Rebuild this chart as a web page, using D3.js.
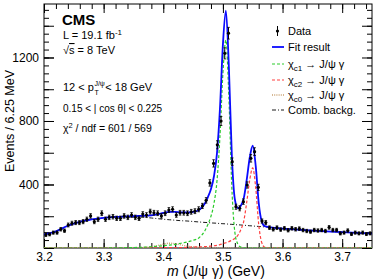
<!DOCTYPE html>
<html>
<head>
<meta charset="utf-8">
<script src="https://cdn.jsdelivr.net/npm/d3@7"></script>
<style>
  body { margin: 0; background: #fff; }
  svg { display: block; font-family: "Liberation Sans", Arial, Helvetica, sans-serif; }
</style>
</head>
<body>
<svg id="chart" width="374" height="280"></svg>
<script>
// histogram: 6.25 MeV bins starting at 3.2 GeV
const binLow = 3.2;
const binWidth = 0.00625;
const counts = [
  82, 86, 97, 97, 118, 109, 145, 156, 160, 160,
  166, 181, 202, 166, 181, 219, 181, 193, 197, 187,
  187, 202, 193, 208, 193, 187, 214, 208, 229, 222,
  219, 202, 219, 239, 244, 208, 222, 222, 219, 228,
  232, 244, 265, 300, 410, 533, 650, 800, 1226, 1353,
  544, 260, 250, 292, 397, 565, 607, 382, 170, 160,
  128, 118, 128, 116, 124, 112, 124, 118, 122, 113,
  107, 103, 113, 110, 113, 107, 130, 113, 113, 92,
  97, 110, 88, 97, 92, 97, 88, 92
];

// fit curves read along the mass axis
const fitMass = [
  3.20, 3.22, 3.24, 3.26, 3.28, 3.30, 3.32, 3.34, 3.36, 3.38,
  3.39, 3.40, 3.41, 3.42, 3.43, 3.44, 3.45, 3.46, 3.47, 3.475,
  3.48, 3.485, 3.49, 3.495, 3.50, 3.505, 3.51, 3.515, 3.52, 3.525,
  3.53, 3.535, 3.54, 3.545, 3.55, 3.555, 3.56, 3.565, 3.57, 3.58,
  3.60, 3.62, 3.65, 3.70, 3.75
];
const fitTotal = [
  85, 105, 140, 165, 180, 190, 196, 199, 202, 206,
  212, 221, 228, 228, 224, 224, 228, 240, 282, 322,
  371, 452, 594, 875, 1281, 1495, 1140, 579, 307, 251,
  266, 314, 432, 570, 644, 517, 286, 169, 138, 130,
  122, 117, 110, 100, 91
];
const fitChic1 = [
  0, 0, 0, 0, 0, 0, 1, 2, 4, 8,
  11, 14, 18, 23, 30, 38, 48, 65, 110, 150,
  200, 280, 420, 700, 1100, 1310, 950, 380, 100, 25,
  6, 1, 0, 0, 0, 0, 0, 0, 0, 0,
  0, 0, 0, 0, 0
];
const fitChic2 = [
  0, 0, 0, 0, 0, 0, 0, 0, 1, 1,
  1, 2, 2, 3, 3, 4, 6, 7, 9, 10,
  12, 14, 17, 21, 28, 33, 40, 50, 60, 80,
  115, 170, 290, 430, 505, 380, 150, 35, 5, 0,
  0, 0, 0, 0, 0
];
const fitChic0 = [
  0, 0, 0, 0, 0, 0, 0, 0, 2, 8,
  15, 24, 30, 27, 19, 12, 7, 4, 2, 2,
  1, 1, 1, 0, 0, 0, 0, 0, 0, 0,
  0, 0, 0, 0, 0, 0, 0, 0, 0, 0,
  0, 0, 0, 0, 0
];
const fitBkg = [
  85, 105, 140, 165, 180, 190, 195, 197, 195, 189,
  185, 181, 178, 175, 172, 170, 167, 164, 161, 160,
  158, 157, 156, 154, 153, 152, 150, 149, 147, 146,
  145, 143, 142, 140, 139, 137, 136, 134, 133, 130,
  122, 117, 110, 100, 91
];

const xTicks = [3.2, 3.3, 3.4, 3.5, 3.6, 3.7];
const yTicks = [400, 800, 1200];

const margin = { left: 44, right: 2, top: 4, bottom: 32 };
const width = 374, height = 280;

const svg = d3.select('#chart');

const x = d3.scaleLinear().domain([3.2, 3.75]).range([margin.left, width - margin.right]);
const y = d3.scaleLinear().domain([0, 1537]).range([height - margin.bottom, margin.top]);

const blue = '#0a0aff';
const green = '#2ccc2c';
const red = '#ff4040';
const tan = '#c8a070';

svg.append('defs').append('clipPath').attr('id', 'plot-clip')
  .append('rect')
  .attr('x', x.range()[0]).attr('y', y.range()[1])
  .attr('width', x.range()[1] - x.range()[0])
  .attr('height', y.range()[0] - y.range()[1]);

// axes (ROOT style: ticks inside, mirrored on all four sides)
const minorX = d3.range(3.2, 3.751, 0.02).map((d) => +d.toFixed(2));
const minorY = d3.range(0, 1537, 50);
const midY = d3.range(0, 1537, 200);

const xBottom = d3.axisBottom(x).tickValues(xTicks).tickSize(-9).tickPadding(4)
  .tickFormat(d3.format('.1f'));
const xBottomMinor = d3.axisBottom(x).tickValues(minorX).tickSize(-5).tickFormat('');
const xTop = d3.axisTop(x).tickValues(xTicks).tickSize(-9).tickFormat('');
const xTopMinor = d3.axisTop(x).tickValues(minorX).tickSize(-5).tickFormat('');

const yLeft = d3.axisLeft(y).tickValues(yTicks).tickSize(-10).tickPadding(5)
  .tickFormat(d3.format('d'));
const yLeftMid = d3.axisLeft(y).tickValues(midY).tickSize(-10).tickFormat('');
const yLeftMinor = d3.axisLeft(y).tickValues(minorY).tickSize(-5).tickFormat('');
const yRightMid = d3.axisRight(y).tickValues(midY).tickSize(-10).tickFormat('');
const yRightMinor = d3.axisRight(y).tickValues(minorY).tickSize(-5).tickFormat('');

const bottomY = y.range()[0], topY = y.range()[1];
const leftX = x.range()[0], rightX = x.range()[1];

const addAxis = (axis, tx, ty) => {
  const g = svg.append('g').attr('transform', `translate(${tx},${ty})`).call(axis);
  g.select('.domain').remove();
  g.selectAll('line').attr('stroke', '#000').attr('stroke-width', 1);
  g.selectAll('text').attr('fill', '#000').attr('font-size', 12)
    .attr('font-family', '"Liberation Sans", Arial, sans-serif');
  return g;
};

addAxis(xBottomMinor, 0, bottomY);
addAxis(xBottom, 0, bottomY);
addAxis(xTopMinor, 0, topY);
addAxis(xTop, 0, topY);
addAxis(yLeftMinor, leftX, 0);
addAxis(yLeftMid, leftX, 0);
addAxis(yLeft, leftX, 0);
addAxis(yRightMinor, rightX, 0);
addAxis(yRightMid, rightX, 0);

svg.append('rect')
  .attr('x', leftX).attr('y', topY)
  .attr('width', rightX - leftX).attr('height', bottomY - topY)
  .attr('fill', 'none').attr('stroke', '#000').attr('stroke-width', 1);

// fit curves
const plot = svg.append('g').attr('clip-path', 'url(#plot-clip)');

const curve = (values) => d3.line()
  .x((d, i) => x(fitMass[i]))
  .y((d) => y(d))
  .curve(d3.curveMonotoneX)(values);

plot.append('path').attr('d', curve(fitBkg))
  .attr('fill', 'none').attr('stroke', '#000').attr('stroke-width', 0.9)
  .attr('stroke-dasharray', '4,2,1,2');
plot.append('path').attr('d', curve(fitChic0))
  .attr('fill', 'none').attr('stroke', tan).attr('stroke-width', 1.4)
  .attr('stroke-dasharray', '1,1.2');
plot.append('path').attr('d', curve(fitChic2))
  .attr('fill', 'none').attr('stroke', red).attr('stroke-width', 1.2)
  .attr('stroke-dasharray', '3,2');
plot.append('path').attr('d', curve(fitChic1))
  .attr('fill', 'none').attr('stroke', green).attr('stroke-width', 1.2)
  .attr('stroke-dasharray', '3,2');
plot.append('path').attr('d', curve(fitTotal))
  .attr('fill', 'none').attr('stroke', blue).attr('stroke-width', 1.8);

// data points with Poisson error bars
const points = counts.map((c, i) => ({ m: binLow + (i + 0.5) * binWidth, n: c, e: Math.sqrt(c) }));

const dataG = svg.append('g');
dataG.selectAll('.err').data(points).enter().append('line')
  .attr('class', 'err')
  .attr('x1', (d) => x(d.m)).attr('x2', (d) => x(d.m))
  .attr('y1', (d) => y(d.n - d.e)).attr('y2', (d) => y(d.n + d.e))
  .attr('stroke', '#000').attr('stroke-width', 1);
dataG.selectAll('.cap').data(points.flatMap((d) => [
  { m: d.m, v: d.n - d.e }, { m: d.m, v: d.n + d.e }
])).enter().append('line')
  .attr('class', 'cap')
  .attr('x1', (d) => x(d.m) - 1.3).attr('x2', (d) => x(d.m) + 1.3)
  .attr('y1', (d) => y(d.v)).attr('y2', (d) => y(d.v))
  .attr('stroke', '#000').attr('stroke-width', 0.8);
dataG.selectAll('circle').data(points).enter().append('circle')
  .attr('cx', (d) => x(d.m)).attr('cy', (d) => y(d.n))
  .attr('r', 1.6).attr('fill', '#000');

// axis titles
svg.append('text')
  .attr('transform', 'translate(14,121) rotate(-90)')
  .attr('text-anchor', 'middle')
  .attr('font-size', 12.5)
  .text('Events / 6.25 MeV');

const xTitle = svg.append('text')
  .attr('x', 167).attr('y', 276)
  .attr('font-size', 14);
xTitle.append('tspan').attr('font-style', 'italic').text('m');
xTitle.append('tspan').text(' (J/ψ γ) (GeV)');

// labels on the left
const label = (tx, ty, size) => svg.append('text').attr('x', tx).attr('y', ty).attr('font-size', size);

label(62, 25, 15).attr('font-weight', 'bold').text('CMS');

const lumi = label(63, 39, 11);
lumi.append('tspan').text('L = 19.1 fb');
lumi.append('tspan').attr('font-size', 8).attr('dy', -4).text('-1');

const sqrtS = label(63, 54, 11);
sqrtS.append('tspan').text('√');
sqrtS.append('tspan').attr('text-decoration', 'overline').text('s');
sqrtS.append('tspan').text(' = 8 TeV');

const pt1 = label(63, 91, 11).text('12 < p');
const ptW = pt1.node().getComputedTextLength();
const sup = label(63 + ptW + 0.5, 85.5, 7).text('J/ψ');
const supW = sup.node().getComputedTextLength();
label(63 + ptW + 0.5, 95, 7).text('T');
label(63 + ptW + supW + 1, 91, 11).text(' < 18 GeV');

label(63, 112, 10).text('0.15 < | cos θ| < 0.225');

const chi = label(63, 132, 10.5);
chi.append('tspan').text('χ');
chi.append('tspan').attr('font-size', 7.5).attr('dy', -4).text('2');
chi.append('tspan').attr('dy', 4).text(' / ndf = 601 / 569');

// legend
const legendX = 272, legendTextX = 288;
const legendRows = [
  { y: 31, type: 'data', text: 'Data' },
  { y: 47, type: 'line', color: blue, width: 1.8, dash: null, text: 'Fit result' },
  { y: 64, type: 'line', color: green, width: 1.2, dash: '3,2', sub: 'c1' },
  { y: 80, type: 'line', color: red, width: 1.2, dash: '3,2', sub: 'c2' },
  { y: 95, type: 'line', color: tan, width: 1.4, dash: '1,1.2', sub: 'c0' },
  { y: 110, type: 'line', color: '#000', width: 0.9, dash: '4,2,1,2', text: 'Comb. backg.' }
];

const legend = svg.append('g');
legendRows.forEach((r) => {
  if (r.type === 'data') {
    legend.append('line').attr('x1', legendX + 5.5).attr('x2', legendX + 5.5)
      .attr('y1', r.y - 5).attr('y2', r.y + 5).attr('stroke', '#000');
    legend.append('circle').attr('cx', legendX + 5.5).attr('cy', r.y).attr('r', 1.6);
  } else {
    legend.append('line').attr('x1', legendX).attr('x2', legendX + 12)
      .attr('y1', r.y).attr('y2', r.y)
      .attr('stroke', r.color).attr('stroke-width', r.width)
      .attr('stroke-dasharray', r.dash);
  }
  const t = legend.append('text').attr('x', legendTextX).attr('y', r.y + 4).attr('font-size', 11);
  if (r.sub) {
    t.append('tspan').text('χ');
    t.append('tspan').attr('font-size', 8).attr('dy', 3).text(r.sub);
    t.append('tspan').attr('dy', -3).text(' → J/ψ γ');
  } else {
    t.text(r.text);
  }
});
</script>
</body>
</html>
